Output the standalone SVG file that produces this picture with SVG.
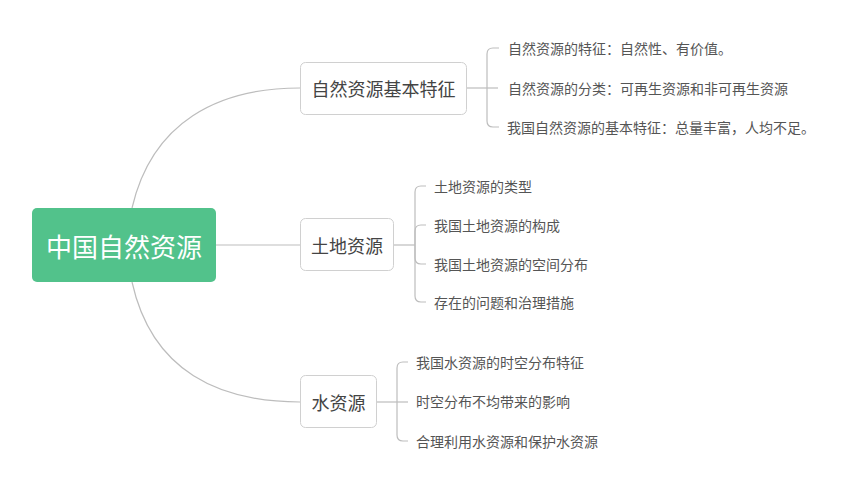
<svg xmlns="http://www.w3.org/2000/svg" width="860" height="484" viewBox="0 0 860 484">
<style>
.bg{fill:#ffffff}
.node{fill:#ffffff;stroke:#d0d0d0;stroke-width:1}
.root{fill:#52c28b}
.conn{fill:none;stroke:#bdbdbd;stroke-width:1.2}
.t{font-family:"Noto Sans CJK SC","Noto Sans",sans-serif;dominant-baseline:central}
.tr{font-size:26px;fill:#ffffff;text-anchor:middle}
.tm{font-size:18px;fill:#444444;text-anchor:middle}
.tc{font-size:14px;fill:#555555}
</style>
<rect class="bg" x="0" y="0" width="860" height="484"/>
<g id="connectors">
<path class="conn" d="M132,208 C152,122 218,88 300,88"/>
<path class="conn" d="M216,245 L300,245"/>
<path class="conn" d="M132,282 C152,372 220,402 300,402"/>
<path class="conn" d="M467,88 L498,88"/>
<path class="conn" d="M487,88 L487,54 Q487,48 493,48 L499,48"/>
<path class="conn" d="M487,88 L487,121 Q487,127 493,127 L499,127"/>
<path class="conn" d="M394,245 L415,245"/>
<path class="conn" d="M415,245 L415,192 Q415,186 421,186 L426,186"/>
<path class="conn" d="M415,245 L415,231 Q415,225 421,225 L426,225"/>
<path class="conn" d="M415,245 L415,258 Q415,264 421,264 L426,264"/>
<path class="conn" d="M415,245 L415,296 Q415,302 421,302 L426,302"/>
<path class="conn" d="M377,402 L408,402"/>
<path class="conn" d="M397,402 L397,368 Q397,362 403,362 L408,362"/>
<path class="conn" d="M397,402 L397,435 Q397,441 403,441 L408,441"/>
</g>
<g id="root">
<rect class="root" x="32" y="208" width="184" height="74" rx="5"/>
<text class="t tr" x="124" y="245">中国自然资源</text>
</g>
<g id="node1">
<rect class="node" x="300.5" y="62.5" width="166" height="52" rx="5"/>
<text class="t tm" x="383.5" y="88">自然资源基本特征</text>
</g>
<g id="node1-children">
<text class="t tc" x="508" y="48">自然资源的特征：自然性、有价值。</text>
<text class="t tc" x="508" y="88">自然资源的分类：可再生资源和非可再生资源</text>
<text class="t tc" x="507" y="127">我国自然资源的基本特征：总量丰富，人均不足。</text>
</g>
<g id="node2">
<rect class="node" x="300.5" y="218.5" width="93" height="52" rx="5"/>
<text class="t tm" x="347" y="245">土地资源</text>
</g>
<g id="node2-children">
<text class="t tc" x="434" y="186">土地资源的类型</text>
<text class="t tc" x="434" y="225">我国土地资源的构成</text>
<text class="t tc" x="434" y="264">我国土地资源的空间分布</text>
<text class="t tc" x="434" y="302">存在的问题和治理措施</text>
</g>
<g id="node3">
<rect class="node" x="300.5" y="375.5" width="76" height="52" rx="5"/>
<text class="t tm" x="338.5" y="402">水资源</text>
</g>
<g id="node3-children">
<text class="t tc" x="416" y="362">我国水资源的时空分布特征</text>
<text class="t tc" x="416" y="401">时空分布不均带来的影响</text>
<text class="t tc" x="416" y="441">合理利用水资源和保护水资源</text>
</g>
</svg>
